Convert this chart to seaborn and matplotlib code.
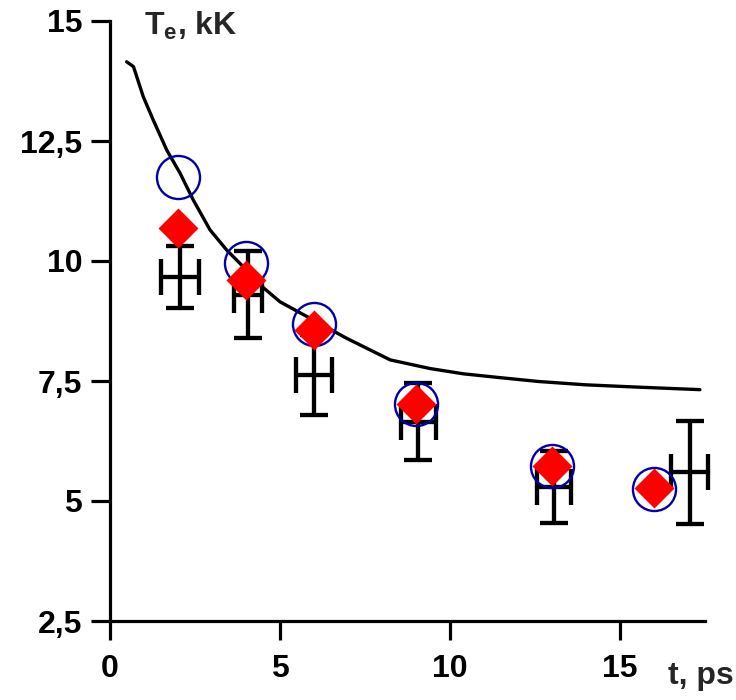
import numpy as np
import pandas as pd
import matplotlib
matplotlib.use('Agg')
import matplotlib.pyplot as plt
import seaborn as sns

# model curve
curve_t = [0.49, 0.69, 0.98, 1.27, 1.67, 2.06, 2.45, 2.94, 3.43, 3.92, 4.5,
           5.0, 5.98, 6.96, 8.24, 9.41, 10.39, 11.47, 12.6, 14.0, 15.6, 17.35]
curve_T = [14.15, 14.05, 13.42, 12.94, 12.31, 11.83, 11.27, 10.65, 10.23, 9.88, 9.45,
           9.15, 8.77, 8.39, 7.94, 7.76, 7.65, 7.57, 7.49, 7.42, 7.37, 7.32]

# open circles
circ_t = [2, 4, 6, 9, 13, 16]
circ_T = [11.75, 9.95, 8.68, 7.03, 5.72, 5.25]

# red diamonds
diam_t = [2, 4, 6, 9, 13, 16]
diam_T = [10.69, 9.6, 8.56, 7.03, 5.72, 5.27]

# experiment with error bars
exp_t = [2.05, 4.05, 6.0, 9.07, 13.06, 17.05]
exp_T = [9.67, 9.3, 7.62, 6.65, 5.3, 5.6]
exp_dT = [0.64, 0.9, 0.83, 0.8, 0.75, 1.07]
exp_dt = [0.56, 0.41, 0.53, 0.52, 0.49, 0.55]

sns.set_style("ticks")
plt.rcParams['font.family'] = ['Liberation Sans', 'DejaVu Sans']
plt.rcParams['font.weight'] = 'bold'
plt.rcParams['mathtext.fontset'] = 'custom'
plt.rcParams['mathtext.rm'] = 'Liberation Sans:bold'
plt.rcParams['mathtext.bf'] = 'Liberation Sans:bold'
plt.rcParams['mathtext.it'] = 'Liberation Sans:bold'

fig = plt.figure(figsize=(7.36, 7.0), dpi=100)
ax = fig.add_axes([110 / 736, 79 / 700, 595 / 736, 600 / 700])

curve_df = pd.DataFrame({'t': curve_t, 'T': curve_T})
sns.lineplot(data=curve_df, x='t', y='T', ax=ax, color='black', linewidth=2.4,
             sort=False, zorder=2)

# error bars: y caps and x caps have different lengths
eb1 = ax.errorbar(exp_t, exp_T, yerr=exp_dT, fmt='none', ecolor='black',
                  elinewidth=3.1, capsize=10, capthick=3.1, zorder=3, clip_on=False)
eb2 = ax.errorbar(exp_t, exp_T, xerr=exp_dt, fmt='none', ecolor='black',
                  elinewidth=3.1, capsize=13, capthick=3.1, zorder=3, clip_on=False)
for eb in (eb1, eb2):
    for lc in eb[2]:
        lc.set_capstyle('round')

ax.plot(circ_t, circ_T, linestyle='none', marker='o', markersize=31,
        markerfacecolor='none', markeredgecolor='#0000a8', markeredgewidth=1.7,
        zorder=4)
ax.plot(diam_t, diam_T, linestyle='none', marker='D', markersize=20,
        markerfacecolor='#ff0000', markeredgecolor='none', zorder=5)

ax.set_xlim(0, 17.5)
ax.set_ylim(2.5, 15)
ax.set_xticks([0, 5, 10, 15])
ax.set_yticks([2.5, 5, 7.5, 10, 12.5, 15])
ax.set_yticklabels(['2,5', '5', '7,5', '10', '12,5', '15'])
ax.set_xlabel('')
ax.set_ylabel('')
for side in ['top', 'right']:
    ax.spines[side].set_visible(False)
for side in ['left', 'bottom']:
    ax.spines[side].set_linewidth(2.3)
    ax.spines[side].set_color('black')
ax.tick_params(axis='both', direction='out', length=14, width=2.3,
               colors='black', labelsize=23, bottom=True, left=True)
ax.tick_params(axis='y', pad=6)
ax.tick_params(axis='x', pad=10)
for lab in ax.get_xticklabels() + ax.get_yticklabels():
    lab.set_fontweight('bold')

ax.text(1.0, 14.9, r'T$_\mathrm{e}$, kK', fontsize=23, fontweight='bold',
        ha='left', va='center')
fig.text(668 / 736, 1 - 676 / 700, 't, ps', fontsize=23, fontweight='bold',
         ha='left', va='center')

fig.savefig('out.png', dpi=100)
